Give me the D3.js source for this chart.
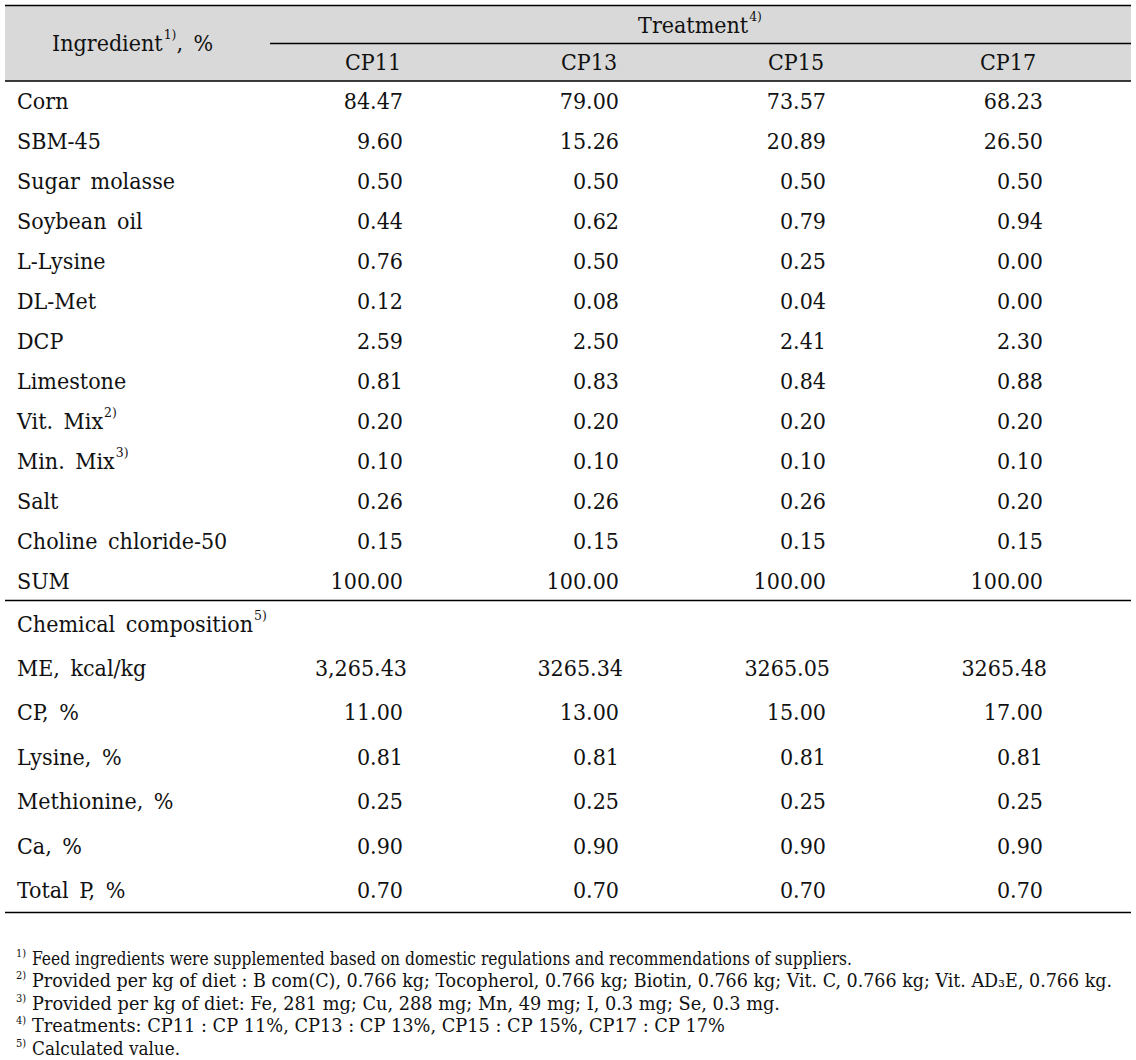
<!DOCTYPE html>
<html>
<head>
<meta charset="utf-8">
<script src="https://cdn.jsdelivr.net/npm/d3@7"></script>
<style>
  html, body { margin: 0; padding: 0; background: #fff; }
  svg { display: block; }
  text { fill: #111; font-stretch: condensed; }
</style>
</head>
<body>
<svg id="chart" width="1136" height="1060"></svg>
<script>
// ---------- data ----------
const treatments = ["CP11", "CP13", "CP15", "CP17"];

const ingredients = ["Corn", "SBM-45", "Sugar molasse", "Soybean oil", "L-Lysine", "DL-Met", "DCP",
  "Limestone", "Vit. Mix", "Min. Mix", "Salt", "Choline chloride-50", "SUM"];
const ingredientSup = ["", "", "", "", "", "", "", "", "2)", "3)", "", "", ""];
const cp11Ing = ["84.47", "9.60", "0.50", "0.44", "0.76", "0.12", "2.59", "0.81", "0.20", "0.10", "0.26", "0.15", "100.00"];
const cp13Ing = ["79.00", "15.26", "0.50", "0.62", "0.50", "0.08", "2.50", "0.83", "0.20", "0.10", "0.26", "0.15", "100.00"];
const cp15Ing = ["73.57", "20.89", "0.50", "0.79", "0.25", "0.04", "2.41", "0.84", "0.20", "0.10", "0.26", "0.15", "100.00"];
const cp17Ing = ["68.23", "26.50", "0.50", "0.94", "0.00", "0.00", "2.30", "0.88", "0.20", "0.10", "0.20", "0.15", "100.00"];

const chemicals = ["ME, kcal/kg", "CP, %", "Lysine, %", "Methionine, %", "Ca, %", "Total P, %"];
const cp11Chem = ["3,265.43", "11.00", "0.81", "0.25", "0.90", "0.70"];
const cp13Chem = ["3265.34", "13.00", "0.81", "0.25", "0.90", "0.70"];
const cp15Chem = ["3265.05", "15.00", "0.81", "0.25", "0.90", "0.70"];
const cp17Chem = ["3265.48", "17.00", "0.81", "0.25", "0.90", "0.70"];

const footnotes = [
  ["1)", "Feed ingredients were supplemented based on domestic regulations and recommendations of suppliers."],
  ["2)", "Provided per kg of diet : B com(C), 0.766 kg; Tocopherol, 0.766 kg; Biotin, 0.766 kg; Vit. C, 0.766 kg; Vit. AD\u2083E, 0.766 kg."],
  ["3)", "Provided per kg of diet: Fe, 281 mg; Cu, 288 mg; Mn, 49 mg; I, 0.3 mg; Se, 0.3 mg."],
  ["4)", "Treatments: CP11 : CP 11%, CP13 : CP 13%, CP15 : CP 15%, CP17 : CP 17%"],
  ["5)", "Calculated value."]
];

// ---------- layout ----------
const FONT = "'DejaVu Serif Condensed', 'DejaVu Serif'";
const svg = d3.select("#chart").attr("font-family", FONT);
const L = 5, R = 1131;
const fs = 23;

const colRight = d3.scaleOrdinal().domain(treatments).range([403, 619, 826, 1043]);
const colCenter = d3.scaleOrdinal().domain(treatments).range([373, 589, 796, 1008]);
const ingY = d3.scalePoint().domain(ingredients).range([101, 581]);
const chemY = d3.scalePoint().domain(chemicals).range([668, 890]);

// header band
svg.append("rect").attr("x", L).attr("y", 5).attr("width", R - L).attr("height", 76).attr("fill", "#d9d9d9");

function hline(y, x0, x1, w) {
  svg.append("line").attr("x1", x0).attr("x2", x1).attr("y1", y).attr("y2", y)
    .attr("stroke", "#000").attr("stroke-width", w || 1.6);
}
hline(5.5, L, R);
hline(43.5, 270, R, 1.4);
hline(81, L, R);
hline(600.5, L, R, 1.4);
hline(912.5, L, R);

function label(x, y, txt, sup, anchor, size) {
  const t = svg.append("text").attr("x", x).attr("y", y).attr("font-size", size || fs)
    .attr("font-family", FONT)
    .attr("text-anchor", anchor || "start").attr("dominant-baseline", "central")
    .style("word-spacing", "4px");
  t.append("tspan").text(txt);
  if (sup) {
    t.append("tspan").attr("font-size", (size || fs) * 0.6).attr("dy", -9).attr("dx", 1).text(sup);
  }
  return t;
}

// header
label(52, 43, "Ingredient", "1)").append("tspan").attr("dy", 9).text(", %");
label(700, 25, "Treatment", "4)", "middle");
treatments.forEach(t => label(colCenter(t), 62, t, "", "middle"));

// ingredient rows
const ingCols = [cp11Ing, cp13Ing, cp15Ing, cp17Ing];
ingredients.forEach((name, i) => {
  label(17, ingY(name), name, ingredientSup[i]);
  treatments.forEach((t, j) => {
    svg.append("text").attr("x", colRight(t)).attr("y", ingY(name)).attr("font-size", fs)
      .attr("font-family", FONT)
      .attr("text-anchor", "end").attr("dominant-baseline", "central").text(ingCols[j][i]);
  });
});

// chemical composition
label(17, 624, "Chemical composition", "5)");
const chemCols = [cp11Chem, cp13Chem, cp15Chem, cp17Chem];
chemicals.forEach((name, i) => {
  label(17, chemY(name), name, "");
  treatments.forEach((t, j) => {
    svg.append("text").attr("x", colRight(t) + (i === 0 ? 4 : 0)).attr("y", chemY(name)).attr("font-size", fs)
      .attr("font-family", FONT)
      .attr("text-anchor", "end").attr("dominant-baseline", "central").text(chemCols[j][i]);
  });
});

// footnotes
const fnY = d3.scalePoint().domain(d3.range(footnotes.length)).range([958, 1048]);
const fnWidths = [820, 1080, 748, 693, 148];
footnotes.forEach((f, i) => {
  svg.append("text").attr("x", 16).attr("y", fnY(i) - 5).attr("font-size", 11)
    .attr("font-family", FONT)
    .attr("dominant-baseline", "central").text(f[0]);
  svg.append("text").attr("x", 32).attr("y", fnY(i)).attr("font-size", 18)
    .attr("font-family", FONT)
    .attr("dominant-baseline", "central")
    .attr("textLength", fnWidths[i]).attr("lengthAdjust", "spacingAndGlyphs").text(f[1]);
});
</script>
</body>
</html>
